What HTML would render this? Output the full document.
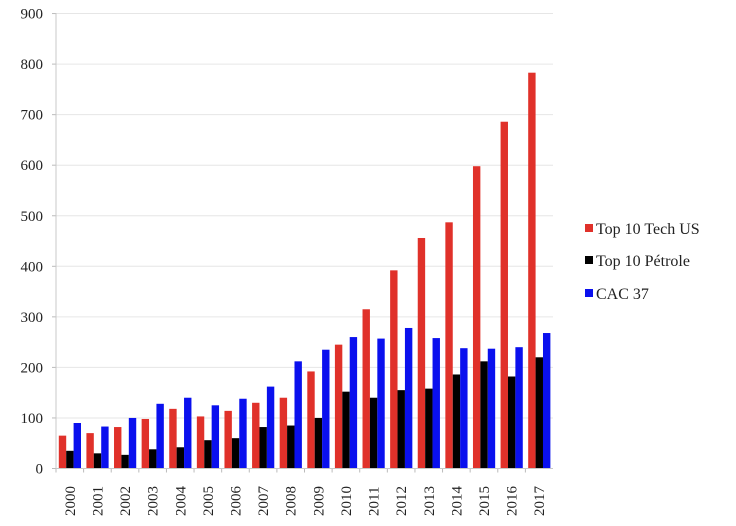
<!DOCTYPE html>
<html><head><meta charset="utf-8"><style>
html,body{margin:0;padding:0;background:#fff;font-family:"Times New Roman","Liberation Serif","DejaVu Serif",serif;}
svg{display:block;}
svg text{font-family:"Times New Roman","Liberation Serif","DejaVu Serif",serif !important;}
</style></head><body>
<svg id="c" width="736" height="526" xmlns="http://www.w3.org/2000/svg"></svg>
<script>
const red=[65,70,82,98,118,103,114,130,140,192,245,315,392,456,487,598,686,783];
const blk=[35,30,27,38,42,56,60,82,85,100,152,140,155,158,186,212,182,220];
const blu=[90,83,100,128,140,125,138,162,212,235,260,257,278,258,238,237,240,268];
const x0=56,x1=553,y0=468.5,k=0.5055;
let s='';
for(let v=0;v<=900;v+=100){const y=y0-v*k;
 if(v>0)s+=`<line x1="${x0}" x2="${x1}" y1="${y}" y2="${y}" stroke="#e6e6e6" stroke-width="1"/>`;
 s+=`<line x1="${x0-4}" x2="${x0}" y1="${y}" y2="${y}" stroke="#bbb"/>`;
 s+=`<text x="43" y="${y+5}" font-size="15" text-anchor="end" fill="#222">${v}</text>`;}
const gw=(x1-x0)/18,bw=7.4;
for(let i=0;i<18;i++){const gx=x0+i*gw+2.8;
 [[red,'#e0312a'],[blk,'#000'],[blu,'#0a10ee']].forEach(([d,c],j)=>{
  const h=d[i]*k;s+=`<rect x="${gx+j*bw}" y="${y0-h}" width="${bw}" height="${h}" fill="${c}"/>`;});
 s+=`<line x1="${x0+i*gw}" x2="${x0+i*gw}" y1="${y0}" y2="${y0+4}" stroke="#bbb"/>`;
 const cx=x0+i*gw+gw/2+5;
 s+=`<text transform="translate(${cx},516) rotate(-90)" font-size="15" fill="#222">${2000+i}</text>`;}
s+=`<line x1="${x0}" x2="${x0}" y1="13" y2="${y0}" stroke="#c8c8c8"/>`;
s+=`<line x1="${x0}" x2="${x1}" y1="${y0}" y2="${y0}" stroke="#c8c8c8"/>`;
const L=[['Top 10 Tech US','#e0312a',234],['Top 10 Pétrole','#000',266],['CAC 37','#0a10ee',299]];
L.forEach(([t,c,y])=>{s+=`<rect x="585" y="${y-10}" width="8" height="8" fill="${c}"/><text x="596" y="${y}" font-size="16" fill="#222">${t}</text>`;});
document.getElementById('c').innerHTML=s;
</script>
</body></html>
